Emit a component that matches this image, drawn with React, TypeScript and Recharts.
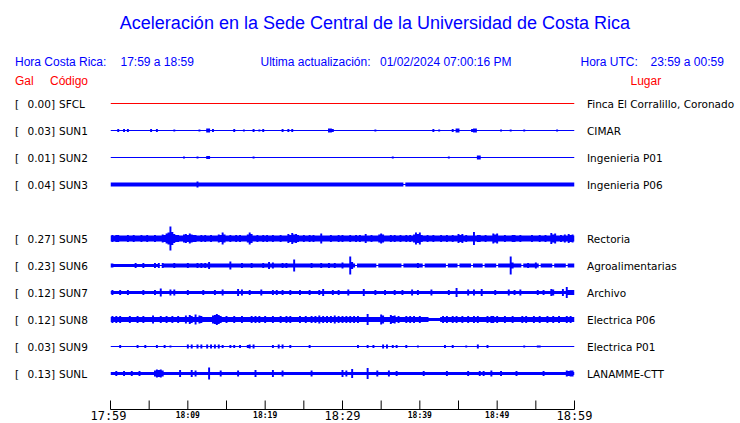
import { ComposedChart, Area, XAxis, YAxis } from "recharts";

// stations, top to bottom (slot 4 is left empty, as in the original)
const stations = ["SFCL", "SUN1", "SUN2", "SUN3", "SUN5", "SUN6", "SUN7", "SUN8", "SUN9", "SUNL"];
const peakGal = ["0.00", "0.03", "0.01", "0.04", "0.27", "0.23", "0.12", "0.12", "0.03", "0.13"];
const places = [
  "Finca El Corralillo, Coronado",
  "CIMAR",
  "Ingenieria P01",
  "Ingenieria P06",
  "Rectoria",
  "Agroalimentarias",
  "Archivo",
  "Electrica P06",
  "Electrica P01",
  "LANAMME-CTT",
];
const slots = [0, 1, 2, 3, 5, 6, 7, 8, 9, 10];

// background half-amplitude of every trace
const baseAmp = [0.5, 0.5, 0.5, 2, 3, 2, 1.5, 2.5, 0.5, 1.5];

// spikes: [minute, half-amplitude] or [start minute, end minute, half-amplitude]
const sfclSpikes: number[][] = [];
const sun1Spikes = [
  [1, 1.5], [1.75, 1.5], [2.25, 1.5], [5.25, 1.5], [6, 1.5], [8.25, 1], [11.5, 1], [12.5, 12.75, 2],
  [13.25, 1.5], [16, 1.5], [17.25, 1], [18.5, 1.5], [19.25, 1], [19.75, 1.5], [22.25, 1.5], [23, 1.5],
  [23.5, 1.5], [28.25, 28.5, 2], [28.75, 1.5], [34.25, 1], [41.75, 1.5], [42.5, 1], [44.25, 1.5],
  [44.75, 45, 2], [46.75, 1.5], [47, 47.25, 2], [50.5, 1], [51.75, 1], [53.5, 1], [57.75, 1],
];
const sun2Spikes = [[9.5, 1], [11.25, 1], [12.5, 12.75, 1.5], [18.5, 1], [36.5, 1], [43.75, 1], [47.5, 47.75, 2]];
const sun3Spikes = [[11.25, 3]];
const sun5Spikes = [
  [0.25, 3.5], [0.75, 3.5], [1, 3.5], [2.25, 3.5], [3, 3.5], [4, 3.5], [4.75, 3.5], [5.75, 3.5],
  [6.75, 4], [7, 3.5], [7.25, 5], [7.5, 6], [7.75, 12], [8, 6.5], [8.25, 4.5], [8.5, 3.5],
  [8.75, 3.5], [9.5, 4], [9.75, 4.5], [10, 3.5], [10.25, 5], [10.5, 4], [10.75, 3.5], [11, 3.5],
  [11.75, 3.5], [12.25, 3.5], [13, 3.5], [14, 4], [14.25, 3.5], [14.5, 6], [14.75, 4], [15.5, 3.5],
  [16.25, 3.5], [16.75, 3.5], [17.75, 4], [18, 6], [18.25, 4.5], [19, 3.5], [19.75, 3.5], [20.25, 3.5],
  [21, 3.5], [22, 3.5], [23, 4.5], [23.25, 3.5], [23.5, 5.5], [23.75, 4], [24, 4.5], [24.25, 3.5],
  [25, 3.5], [25.75, 3.5], [26.25, 3.5], [27.25, 5], [28.5, 3.5], [29.5, 3.5], [30, 3.5], [31, 3.5],
  [31.75, 3.5], [32.25, 3.5], [33, 4.5], [33.75, 3.5], [34.75, 4], [35, 5], [35.25, 4], [36.25, 3.5],
  [36.75, 3.5], [37.5, 3.5], [38.25, 3.5], [38.75, 3.5], [39.25, 4], [39.5, 6], [39.75, 4.5], [40, 6],
  [40.25, 3.5], [41, 3.5], [41.75, 3.5], [42.75, 3.5], [43.5, 3.5], [44.25, 3.5], [45, 4.5], [45.25, 3.5],
  [45.5, 4.5], [46, 3.5], [47, 6.5], [47.5, 3.5], [47.75, 3.5], [48.5, 3.5], [49.5, 5], [49.75, 4],
  [50, 5], [51, 3.5], [52, 3.5], [52.25, 3.5], [53, 3.5], [54.5, 3.5], [55.5, 3.5], [56.25, 3.5],
  [57, 5.5], [57.25, 4], [57.5, 5], [58.25, 3.5], [58.75, 4], [59.25, 4.5], [59.5, 3.5], [59.75, 4],
];
const sun6Spikes = [
  [0, 0.25, 2], [3.25, 2.5], [4.25, 2.5], [5.75, 2.5], [6.25, 2.5], [6.75, 2.5], [8.25, 2.5], [10, 2.5],
  [11.25, 2.5], [11.75, 2.5], [12.25, 2.5], [12.75, 3.5], [15.5, 4], [17, 2.5], [18.25, 2.5],
  [19.75, 2.5], [20.5, 3.5], [21, 3], [22.25, 2.5], [22.75, 2.5], [23.75, 6], [26, 2.5], [27.25, 2.5],
  [28.25, 2.5], [29, 2.5], [30, 3], [31, 9], [31.25, 3.5], [39.75, 2.5], [51.75, 9], [52, 3],
  [54, 2.5], [55, 3],
];
const sun7Spikes = [
  [0.25, 2.5], [1.25, 2.5], [2.25, 2.5], [4.25, 2.5], [5.75, 2.5], [6.5, 4], [7.75, 3], [8.25, 3],
  [10, 2.5], [12, 2.5], [13.5, 2.5], [14.5, 3], [16.5, 3.5], [17, 3], [18, 2.5], [19.5, 3], [21, 2.5],
  [21.5, 2.5], [22.25, 2.5], [23.25, 2.5], [24.5, 2.5], [25.75, 2.5], [27, 2.5], [27.5, 3.5],
  [28.75, 2.5], [29.5, 2.5], [30.75, 3], [32.75, 3.5], [34.25, 2.5], [35.5, 2.5], [36.75, 2.5],
  [37.75, 2.5], [39, 3], [39.75, 2.5], [41.5, 3], [43.75, 2.5], [44.75, 4.5], [46.25, 3], [47, 3],
  [48, 3.5], [49.75, 2.5], [51.5, 3], [52.25, 2.5], [53, 3], [55.25, 2.5], [56, 2.5], [57, 3.5],
  [57.25, 3], [58.5, 3.5], [59, 5.5], [59.25, 60, 2.5],
];
const sun8Spikes = [
  [0.25, 3.5], [0.75, 3.5], [1.25, 3.5], [2.5, 3.5], [3.5, 3.5], [4.25, 3.5], [5.5, 4], [6.5, 3.5],
  [7.25, 3.5], [8, 3.5], [8.75, 3.5], [9.75, 4], [10.25, 4.5], [10.5, 3.5], [11, 5], [11.5, 4],
  [11.75, 3.5], [13.25, 4], [13.5, 4.5], [13.75, 5.5], [14, 4.5], [14.25, 3.5], [15, 3.5], [16, 3.5],
  [17, 3.5], [18.25, 3.5], [18.75, 3.5], [19.25, 3.5], [20, 3.5], [21, 3.5], [22, 3.5], [22.75, 3.5],
  [23.25, 3.5], [24.5, 3.5], [25.25, 3.5], [26, 3.5], [26.5, 3.5], [27, 4], [27.5, 3.5], [28, 3.5],
  [28.5, 3.5], [29, 4], [29.5, 3.5], [30, 3.5], [30.5, 3.5], [31, 3.5], [31.5, 3.5], [32, 3.5],
  [33.25, 5.5], [35, 5], [35.25, 4], [36.25, 4.5], [36.5, 3.5], [36.75, 4], [37.25, 3.5], [38.25, 3.5],
  [38.75, 3.5], [39.25, 3.5], [40, 3.5], [43, 3.5], [43.5, 3.5], [44.25, 3.5], [44.75, 3.5],
  [45.5, 3.5], [46.25, 3.5], [47, 3.5], [47.5, 3.5], [48.75, 3.5], [49.25, 3.5], [49.5, 3.5], [50, 3.5],
  [51, 3.5], [52, 3.5], [53.25, 3.5], [53.75, 3.5], [54.75, 3.5], [55.5, 3.5], [56.5, 3.5],
  [57.25, 3.5], [58, 3.5], [59, 3.5], [59.5, 3.5],
];
const sun9Spikes = [
  [1.25, 1.5], [3.5, 1.5], [4.5, 1.5], [6, 1.5], [7, 1.5], [7.75, 1], [10, 2], [10.5, 2], [11.25, 2],
  [11.75, 2], [12.5, 2], [13, 2], [13.5, 2], [14, 2], [14.5, 1.5], [15.5, 1.5], [16, 1.5], [16.75, 1.5],
  [17.75, 1.5], [18, 2], [18.5, 2], [21, 1.5], [21.75, 2], [22.25, 2], [23.25, 1.5], [25.75, 1.5],
  [32, 1.5], [33.25, 1.5], [34, 1.5], [35.25, 2], [35.75, 2], [36.5, 1.5], [37, 1.5], [38.25, 1.5],
  [39.75, 1], [43.25, 1.5], [44.25, 1.5], [46, 1], [47.5, 2], [48.75, 1.5], [53.5, 1], [55.25, 55.5, 1],
];
const sunlSpikes = [
  [0.75, 2.5], [1.75, 2.5], [2.75, 2.5], [3.75, 2.5], [5.75, 3], [6, 4], [6.25, 3.5], [6.5, 4],
  [6.75, 3], [9, 3.5], [10.5, 3.5], [11, 3], [12.75, 6], [14.25, 3], [16.5, 3], [18.75, 3.5], [21, 3.5],
  [22.25, 3], [26, 3], [30, 3.5], [30.5, 3], [31.25, 4.5], [33.25, 5.5], [34.5, 3], [36, 3], [37, 2.5],
  [40.5, 2.5], [43.5, 2.5], [46.25, 2.5], [47.75, 2.5], [48.25, 2.5], [49.25, 3], [50.5, 2.5],
  [52.5, 2.5], [56, 2.5], [59, 3], [59.25, 2.5], [59.5, 3], [59.75, 3],
];
const spikes = [sfclSpikes, sun1Spikes, sun2Spikes, sun3Spikes, sun5Spikes, sun6Spikes, sun7Spikes, sun8Spikes, sun9Spikes, sunlSpikes];

// quiet stretches / dropouts: [start minute, end minute, half-amplitude]
const sun3Quiet = [[38, 38, 0.5]];
const sun6Quiet = [
  [0, 6, 1.5], [6.5, 6.5, 0.5], [31.75, 31.75, 0.5], [34.5, 34.5, 0.5], [37.75, 37.75, 0.5],
  [40.5, 40.5, 0.5], [43.5, 43.5, 0.5], [45, 45, 0.5], [46.75, 46.75, 0.5], [48.25, 48.25, 0.5],
  [50, 50, 0.5], [53.25, 53.25, 0.5], [55.5, 55.5, 0.5], [57.25, 57.25, 0.5], [59, 59, 0.5],
];
const sun8Quiet = [[41.25, 42.5, 1.5]];
const quiet = [[], [], [], sun3Quiet, [], sun6Quiet, [], sun8Quiet, [], []];

const tickMinutes = [0, 5, 10, 15, 20, 25, 30, 35, 40, 45, 50, 55, 60];
const tickLabels = ["17:59", "", "18:09", "", "18:19", "", "18:29", "", "18:39", "", "18:49", "", "18:59"];
const majorTicks = [0, 30, 60];

const STEP = 0.25;
const times = Array.from({ length: 241 }, (_, i) => i * STEP);
const center = (k: number) => 13.5 + 27 * slots[k];
const inside = (t: number, e: number[]) =>
  t >= e[0] - 0.01 && t <= (e.length === 3 ? e[1] : e[0]) + 0.01;

const data = times.map((t) => {
  const row: any = { t };
  stations.forEach((s, k) => {
    let a = baseAmp[k];
    quiet[k].forEach((e) => { if (inside(t, e)) a = e[e.length - 1]; });
    spikes[k].forEach((e) => { if (inside(t, e)) a = Math.max(a, e[e.length - 1]); });
    row[s] = [center(k) - a, center(k) + a];
  });
  return row;
});

const blue = "#0000ff";
const red = "#ff0000";

function RowLabel(props: any) {
  const { y, payload } = props;
  const k = slots.findIndex((_, i) => Math.abs(center(i) - payload.value) < 0.01);
  if (k < 0) return null;
  const font = { fontFamily: "DejaVu Sans", fontSize: 10.5, fill: "#000" };
  return (
    <g>
      <text x={15} y={y + 4} {...font}>[</text>
      <text x={55} y={y + 4} textAnchor="end" {...font}>{peakGal[k]}]</text>
      <text x={59} y={y + 4} {...font}>{stations[k]}</text>
      <text x={587} y={y + 4} {...font}>{places[k]}</text>
    </g>
  );
}

function TimeTick(props: any) {
  const { x, y, payload } = props;
  const i = tickMinutes.indexOf(payload.value);
  const major = majorTicks.includes(payload.value);
  return (
    <g>
      <line x1={x} x2={x} y1={y - 9} y2={y} stroke="#000" strokeWidth={1} />
      {tickLabels[i] && (
        <text
          x={i === 0 ? x - 2 : x}
          y={major ? y + 10 : y + 8}
          textAnchor="middle"
          fontFamily="DejaVu Sans Mono"
          fontSize={major ? 12 : 8}
          fontWeight={major ? "normal" : "bold"}
          fill="#000"
        >
          {tickLabels[i]}
        </text>
      )}
    </g>
  );
}

export default function App() {
  const head = { fontFamily: "Liberation Sans", fontSize: 12 };
  return (
    <div style={{ position: "relative", width: 740, height: 423, background: "#fff" }}>
      <style>{"body{margin:0}"}</style>
      <ComposedChart width={740} height={423} data={data} margin={{ top: 90, right: 165.5, bottom: 0, left: 0.5 }}>
        <XAxis
          dataKey="t"
          type="number"
          domain={[0, 60]}
          ticks={tickMinutes}
          interval={0}
          height={13.5}
          tickLine={false}
          tickSize={0}
          tickMargin={0}
          axisLine={{ stroke: "#000" }}
          tick={TimeTick}
          allowDataOverflow
        />
        <YAxis
          yAxisId="l"
          type="number"
          domain={[0, 319.5]}
          reversed
          width={110}
          ticks={slots.map((_, k) => center(k))}
          interval={0}
          axisLine={false}
          tickLine={false}
          tickSize={0}
          tickMargin={0}
          tick={RowLabel}
          allowDataOverflow
        />
        {stations.map((s, k) => (
          <Area
            key={s}
            yAxisId="l"
            dataKey={s}
            type="step"
            stroke="none"
            fill={k === 0 ? red : blue}
            fillOpacity={1}
            dot={false}
            activeDot={false}
            isAnimationActive={false}
          />
        ))}
      </ComposedChart>
      <svg width={740} height={423} style={{ position: "absolute", left: 0, top: 0, pointerEvents: "none" }}>
        <text x={375} y={28.5} textAnchor="middle" fontFamily="Liberation Sans" fontSize={18} fill={blue}>
          Aceleración en la Sede Central de la Universidad de Costa Rica
        </text>
        <g {...head} fill={blue}>
          <text x={15} y={65.5}>Hora Costa Rica:</text>
          <text x={120.5} y={65.5}>17:59 a 18:59</text>
          <text x={260.5} y={65.5}>Ultima actualización:</text>
          <text x={380} y={65.5}>01/02/2024 07:00:16 PM</text>
          <text x={580.5} y={65.5}>Hora UTC:</text>
          <text x={650.5} y={65.5}>23:59 a 00:59</text>
        </g>
        <g {...head} fill={red}>
          <text x={15} y={85}>Gal</text>
          <text x={50} y={85}>Código</text>
          <text x={630.5} y={85}>Lugar</text>
        </g>
      </svg>
    </div>
  );
}
